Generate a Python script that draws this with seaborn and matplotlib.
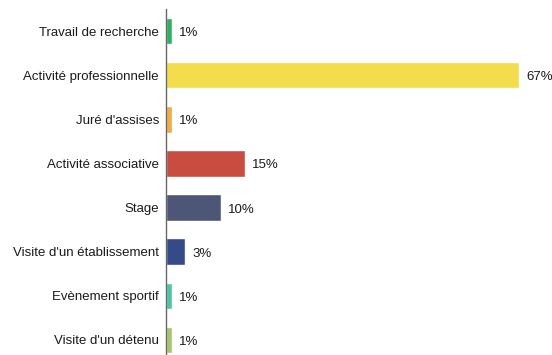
import matplotlib
matplotlib.use("Agg")
import matplotlib.pyplot as plt
import seaborn as sns
import pandas as pd

categories = ["Travail de recherche", "Activité professionnelle", "Juré d'assises",
              "Activité associative", "Stage", "Visite d'un établissement",
              "Evènement sportif", "Visite d'un détenu"]
values = [1.1, 67.0, 1.1, 15.0, 10.4, 3.6, 1.1, 1.1]
labels = ["1%", "67%", "1%", "15%", "10%", "3%", "1%", "1%"]
colors = ["#2db262", "#f4dd4c", "#f3ab44", "#c94c41", "#4d5677", "#344a89", "#4cc6a6", "#a9c56b"]

sns.set_theme(style="white")
plt.rcParams['font.family'] = ['Liberation Sans', 'DejaVu Sans']

df = pd.DataFrame({"cat": categories, "val": values})

fig = plt.figure(figsize=(5.52, 3.55), dpi=100)
ax = fig.add_axes([166/552, -7/355, (552-166)/552, 353/355])
sns.barplot(data=df, x="val", y="cat", hue="cat", palette=colors, legend=False,
            width=0.6, ax=ax, orient="h", saturation=1)

ax.set_xlim(0, (552-166)/5.27)
ax.set_ylim(7.5, -0.5)
for i, (v, lab) in enumerate(zip(values, labels)):
    ax.annotate(lab, xy=(v, i), xytext=(7, -5), textcoords="offset pixels",
                va="baseline", ha="left", fontsize=9.5, color="#1a1a1a")

ax.set_xlabel("")
ax.set_ylabel("")
ax.set_xticks([])
ax.tick_params(axis="y", length=0, pad=5, labelsize=9.5, labelcolor="#1a1a1a")
for s in ["top", "right", "bottom"]:
    ax.spines[s].set_visible(False)
ax.spines["left"].set_color("#666666")
ax.spines["left"].set_linewidth(1)

fig.savefig("out.png", dpi=100)
